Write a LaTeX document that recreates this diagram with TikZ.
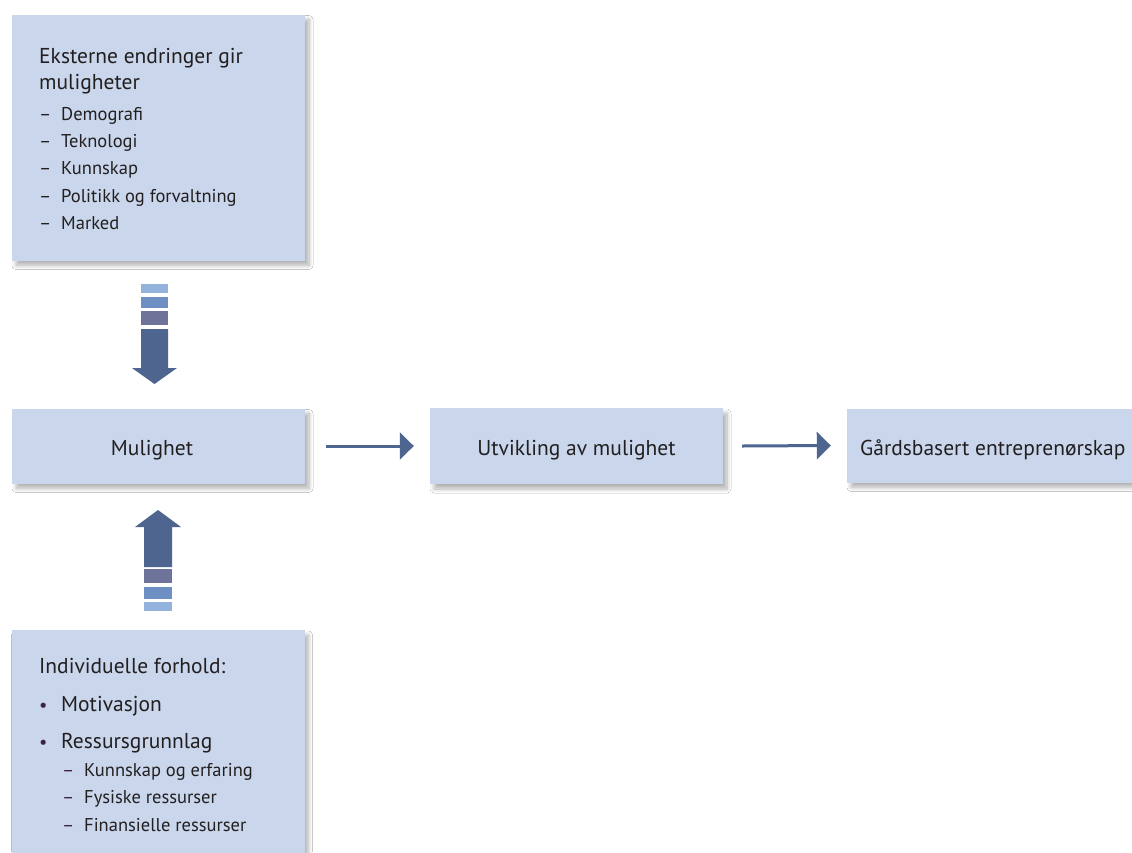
\documentclass[tikz,border=0pt]{standalone}
\usepackage{fontspec}
\setmainfont{PT Sans}
\usetikzlibrary{arrows.meta,shadows.blur}
\definecolor{boxfill}{HTML}{C9D6EB}
\definecolor{arrowc}{HTML}{4E6590}
\definecolor{stripeA}{HTML}{93B3DC}
\definecolor{stripeB}{HTML}{6E8FC4}
\definecolor{stripeC}{HTML}{6F7399}
\definecolor{txt}{HTML}{231F20}
\definecolor{bul}{HTML}{3D2440}
\begin{document}
\begin{tikzpicture}[x=1pt,y=-1pt,
  box/.style={fill=boxfill, draw=none, inner sep=0pt,
    blur shadow={shadow xshift=4pt, shadow yshift=-5pt, shadow blur radius=4pt, shadow blur steps=10, shadow opacity=30}},
  big/.style={font=\fontsize{21.5}{25}\selectfont, text=txt, inner sep=0pt},
  small/.style={font=\fontsize{18.5}{22}\selectfont, text=txt, inner sep=0pt},
  lbl/.style={anchor=base west},
  flow/.style={draw=arrowc, line width=3pt, -{Triangle[length=14pt,width=27pt]}},
  fat/.style={fill=arrowc, draw=none}]
\useasboundingbox[fill=white] (0,0) rectangle (1132,852);
\clip (0,0) rectangle (1132,852);

% boxes
\node[box, minimum width=293pt, minimum height=246pt] (ext) at (158.5,137.5) {};
\node[box, minimum width=293pt, minimum height=75pt] (mul) at (158.5,446) {};
\node[box, minimum width=293pt, minimum height=76pt] (utv) at (576.5,446) {};
\node[box, minimum width=300pt, minimum height=74pt] (gard) at (997,445.5) {};
\node[box, minimum width=293pt, minimum height=240pt] (ind) at (158,750) {};

% texts top box
\node[big, lbl] (t1) at (39,63) {Eksterne endringer gir};
\node[big, lbl] (t2) at (39,89) {muligheter};
\foreach \y/\t/\n in {120/Demografi/a,147/Teknologi/b,174/Kunnskap/c,202/Politikk og forvaltning/d,229/Marked/e}{
  \node[small, lbl] (d\n) at (39,\y) {–};
  \node[small, lbl] (i\n) at (61,\y) {\t};
}

% flow labels
\node[big, anchor=base] (tm) at (152,455) {Mulighet};
\node[big, anchor=base] (tu) at (576.5,455) {Utvikling av mulighet};
\node[big, anchor=base west] (tg) at (860,455) {Gårdsbasert entreprenørskap};

% bottom box
\node[big, lbl] (b1) at (39,673) {Individuelle forhold:};
\node[small, lbl, text=bul] (bu1) at (39,711) {•};
\node[big, lbl] (b2) at (61,711) {Motivasjon};
\node[small, lbl, text=bul] (bu2) at (39,748) {•};
\node[big, lbl] (b3) at (61,748) {Ressursgrunnlag};
\foreach \y/\t/\n in {776/Kunnskap og erfaring/a,803/Fysiske ressurser/b,831/Finansielle ressurser/c}{
  \node[small, lbl, text=bul] (sd\n) at (62,\y) {–};
  \node[small, lbl] (s\n) at (84,\y) {\t};
}

% thin arrows
\draw[flow] ([xshift=21pt]mul.east) -- ([xshift=-16pt]utv.west);
\draw[flow] ([xshift=19pt]utv.east) -- ([xshift=-16pt]gard.west);

% fat down arrow
\fill[stripeA] (141,284) rectangle (168,293);
\fill[stripeB] (141,297) rectangle (168,308);
\fill[stripeC] (141,311) rectangle (168,325);
\fill[fat] (141,329) -- (168,329) -- (168,368) -- (177,368) -- (154.5,384) -- (132,368) -- (141,368) -- cycle;

% fat up arrow
\fill[fat] (144,567) -- (172,567) -- (172,527) -- (181,527) -- (158,510) -- (135,527) -- (144,527) -- cycle;
\fill[stripeC] (144,569) rectangle (172,583);
\fill[stripeB] (144,587) rectangle (172,599);
\fill[stripeA] (144,602) rectangle (172,611);
\end{tikzpicture}
\end{document}
